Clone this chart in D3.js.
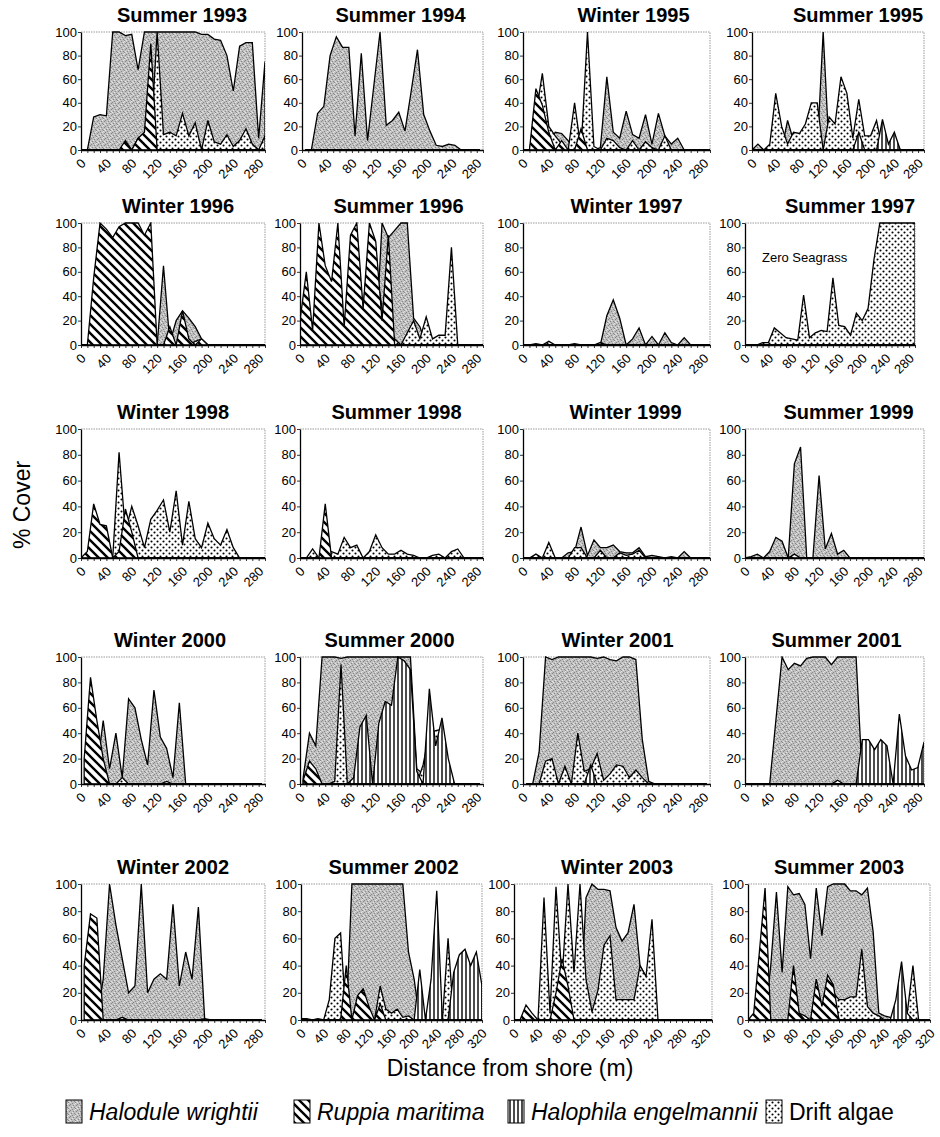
<!DOCTYPE html>
<html>
<head>
<meta charset="utf-8">
<script src="https://cdn.jsdelivr.net/npm/d3@7"></script>
<style>
  body { margin: 0; background: #fff; }
  svg { display: block; font-family: "Liberation Sans", Arial, Helvetica, sans-serif; }
</style>
</head>
<body>
<svg id="chart" width="940" height="1137"></svg>
<script>
// panel titles, reading order (4 per row)
const seasons = [
  "Summer 1993", "Summer 1994", "Winter 1995", "Summer 1995",
  "Winter 1996", "Summer 1996", "Winter 1997", "Summer 1997",
  "Winter 1998", "Summer 1998", "Winter 1999", "Summer 1999",
  "Winter 2000", "Summer 2000", "Winter 2001", "Summer 2001",
  "Winter 2002", "Summer 2002", "Winter 2003", "Summer 2003"
];

// distance (m) of the first sample of each transect, samples every 10 m
const firstSample = [0, 5, 0, 0, 0, 0, 0, 0, 0, 0, 0, 0, 5, 5, 5, 0, 5, 0, 0, 0];
// x-axis extent and last labelled tick (m)
const axisMax = [290, 290, 290, 290, 290, 290, 290, 290, 290, 290, 290, 290, 290, 290, 290, 290, 290, 320, 330, 320];
const labelMax = [280, 280, 280, 280, 280, 280, 280, 280, 280, 280, 280, 280, 280, 280, 280, 280, 280, 320, 320, 320];
const yTicks = [0, 20, 40, 60, 80, 100];

// % cover per sample; samples left out at the end of a list are 0
const halodule = [
  [0,0,28,30,29,100,100,97,98,68,100,100,100,100,100,100,100,100,100,98,98,94,93,80,50,88,91,91,10,75],
  [0,0,31,37,80,96,87,87,12,82,8,54,100,21,25,32,16,50,85,30,16,4,3,5,4,0],
  [0,0,0,0,5,15,14,8,0,0,0,0,2,62,15,10,33,13,10,30,5,31,12,5,10,0],
  [0,5,0,2,0,0,25,8,8,0,5,0,100,0,0,38,20,0,0,0,0,12,0],
  [0,0,0,0,0,0,0,0,0,0,0,0,0,65,2,20,28,22,15,5,0],
  [0,0,0,0,0,0,0,0,0,0,0,0,0,100,88,94,100,100,22,15,0],
  [0,0,0,0,0,0,0,0,0,0,0,0,0,24,37,22,0,5,14,0,7,0,10,2,0,6,0],
  [],
  [],
  [],
  [0,0,0,0,0,0,0,4,5,24,2,14,8,8,10,5,4,4,8,1,2,1,0,1,0,5,0],
  [0,1,3,0,5,16,13,0,73,86,0,0,64,7,19,3,6,0],
  [0,0,10,50,12,40,5,67,60,35,15,74,37,28,5,64,0],
  [5,40,30,100,100,100,99,100,100,100,100,100,100,100,100,100,100,100,12,8,0],
  [0,0,25,100,98,100,100,100,100,100,100,99,100,98,97,100,100,98,35,2,0],
  [0,0,0,0,0,50,100,90,95,93,99,100,100,100,94,100,100,100,100,5,0],
  [0,0,0,30,100,70,45,20,25,100,20,30,34,30,85,25,50,30,83,0],
  [0,0,0,0,0,0,0,0,0,100,100,100,100,100,100,100,100,100,100,50,30,0],
  [0,0,0,0,0,0,0,0,0,0,0,0,90,100,96,96,95,68,58,64,85,40,32,0],
  [0,0,0,0,40,94,35,98,92,93,85,45,97,62,98,100,100,100,95,95,92,97,65,5,3,2,0]
];

const ruppia = [
  [0,0,0,0,0,0,0,8,0,10,15,90,0],
  [],
  [0,0,52,38,15,0,8,0,0,18,0],
  [],
  [0,0,55,100,95,88,97,100,100,100,90,100,0,0,15,0,28,5,0,5,0],
  [20,60,12,100,65,52,100,15,90,100,30,100,85,20,90,0],
  [],
  [],
  [0,5,42,26,25,0,5,38,20,0],
  [0,0,0,0,42,0],
  [],
  [0,0,0,0,0,0,0,0,3,0],
  [20,84,50,20,0],
  [3,18,12,0],
  [],
  [],
  [40,78,75,0],
  [0,0,0,0,0,0,0,0,40,0,18,23,10,0,12,0],
  [0,0,11,5,0,0,0,20,45,25,0],
  [0,5,50,97,0,0,0,0,40,5,0,0,30,10,33,26,0]
];

const halophila = [
  [], [], [],
  [0,0,0,0,0,0,0,0,0,0,0,0,0,0,0,0,0,0,15,0,0,0,26,5,15,0],
  [], [], [], [], [], [], [], [], [],
  [0,0,0,0,0,0,0,0,5,45,54,0,48,65,62,100,97,90,10,0,75,30,52,20,0],
  [0,0,0,0,0,0,0,0,0,0,15,0],
  [0,0,0,0,0,0,0,0,0,0,0,0,0,0,0,0,0,0,0,35,35,27,35,30,0,55,22,11,13,33],
  [],
  [0,0,0,0,0,0,0,0,0,0,0,0,0,0,0,0,0,0,0,0,0,37,0,30,95,0,0,35,48,52,40,50,25],
  [],
  [0,0,0,0,0,0,0,0,0,0,0,0,0,0,0,0,0,0,0,0,0,0,0,0,0,0,15,43,5,0]
];

const driftAlgae = [
  [0,0,0,0,0,0,0,0,0,10,12,8,100,13,15,12,31,12,23,0,25,7,5,13,3,8,18,5,0,12],
  [],
  [0,0,30,65,20,12,5,0,40,0,100,3,0,10,8,2,0,8,0,7,2,0,12,0],
  [0,0,0,5,48,20,5,15,14,22,40,40,0,28,22,62,48,10,43,12,12,25,0,0,10,0],
  [0,0,0,0,12,0,0,8,0,0,0,8,0,0,0,0,5,0,3,5,0],
  [0,0,0,0,0,0,0,0,60,55,30,85,65,30,20,5,0,10,20,5,23,5,8,8,80,0],
  [0,0,1,0,3,0,0,0,1,0,0,0,2,0],
  [0,0,0,2,2,14,10,6,5,4,41,6,10,12,11,55,16,15,8,26,20,30,70,100,100,100,100,100,100,100],
  [0,3,0,0,0,0,82,20,40,25,8,30,37,45,20,52,10,44,15,8,27,15,10,22,8,0],
  [0,0,7,0,5,5,3,16,8,10,0,5,18,8,3,3,6,3,2,0,0,2,3,0,5,7,0],
  [0,0,3,0,12,0,0,0,8,8,0,0,6,0,0,4,2,3,6,0],
  [],
  [0,0,0,0,0,0,5,0,0,0,0,0,0,2,0],
  [0,0,0,0,0,2,94,0,0,0,0,0,0,7,4,3,5,0,0,15,40,42,43,0],
  [0,0,0,18,20,0,14,0,40,10,12,24,3,8,15,14,5,11,5,0],
  [0,0,0,0,0,0,0,0,0,0,0,0,0,0,0,3,0,0,0,0,0,0,0,0,0,0,0,0,0,5],
  [0,0,0,0,0,0,2,0,0,0,0,0,0,0,0,0,0,0,0,1,0],
  [1,1,0,1,0,15,60,64,0,0,5,10,0,0,25,8,5,8,2,3,0,0,0,0,0,0,60,0],
  [0,0,0,0,0,90,5,98,30,100,35,100,30,6,22,55,62,15,15,15,15,40,32,74,0],
  [0,0,0,0,0,0,0,0,0,5,3,0,0,5,0,20,15,15,17,17,52,10,5,3,0,0,0,0,5,40,0]
];

const species = [
  { name: "Halodule wrightii", values: halodule, fill: "url(#pHal)", italic: true },
  { name: "Ruppia maritima", values: ruppia, fill: "url(#pRup)", italic: true },
  { name: "Halophila engelmannii", values: halophila, fill: "url(#pHph)", italic: true },
  { name: "Drift algae", values: driftAlgae, fill: "url(#pDri)", italic: false }
];
const drawOrder = [0, 3, 2, 1]; // back to front

// ---- layout ----
const rowBox = [[32, 150], [223, 345], [429, 558], [657, 784], [884, 1020]];
const colBox = [
  [[81, 265], [302, 483], [523, 710], [752, 924]],
  [[81, 265], [300, 483], [523, 710], [745, 915]],
  [[81, 265], [300, 483], [523, 710], [745, 924]],
  [[81, 265], [300, 483], [523, 710], [745, 924]],
  [[81, 265], [301, 482], [514, 712], [748, 930]]
];
const titleShift = [9, 8, 17, 20, 5, 7, 10, 20, 0, 5, 9, 14, -3, -2, 1, 2, 0, 2, 4, 0];
const fontFam = "Liberation Sans, Arial, Helvetica, sans-serif";

const svg = d3.select("#chart");
const defs = svg.append("defs");

// grey speckle for Halodule
const pHal = defs.append("pattern").attr("id", "pHal")
  .attr("patternUnits", "userSpaceOnUse").attr("width", 7).attr("height", 6);
pHal.append("rect").attr("width", 7).attr("height", 6).attr("fill", "#bfbfbf");
[[0,0],[3,1],[1,3],[5,4],[6,1],[2,5],[4,3]].forEach(([a, b]) =>
  pHal.append("rect").attr("x", a).attr("y", b).attr("width", 1).attr("height", 1).attr("fill", "#878787"));
[[2,2],[5,5],[0,4],[4,0],[6,3]].forEach(([a, b]) =>
  pHal.append("rect").attr("x", a).attr("y", b).attr("width", 1).attr("height", 1).attr("fill", "#e4e4e4"));

// back-slash hatch for Ruppia
const pRup = defs.append("pattern").attr("id", "pRup")
  .attr("patternUnits", "userSpaceOnUse").attr("width", 9).attr("height", 9);
pRup.append("rect").attr("width", 9).attr("height", 9).attr("fill", "#fff");
pRup.append("path").attr("d", "M-1,-1 L10,10 M-1,8 L1,10 M8,-1 L10,1")
  .attr("stroke", "#000").attr("stroke-width", 2.4);

// vertical lines for Halophila
const pHph = defs.append("pattern").attr("id", "pHph")
  .attr("patternUnits", "userSpaceOnUse").attr("width", 4).attr("height", 4);
pHph.append("rect").attr("width", 4).attr("height", 4).attr("fill", "#fff");
pHph.append("rect").attr("x", 1.3).attr("width", 1.4).attr("height", 4).attr("fill", "#000");

// dots for drift algae
const pDri = defs.append("pattern").attr("id", "pDri")
  .attr("patternUnits", "userSpaceOnUse").attr("width", 6).attr("height", 6);
pDri.append("rect").attr("width", 6).attr("height", 6).attr("fill", "#fff");
pDri.append("circle").attr("cx", 1.5).attr("cy", 1.5).attr("r", 1.05).attr("fill", "#000");
pDri.append("circle").attr("cx", 4.5).attr("cy", 4.5).attr("r", 1.05).attr("fill", "#000");

seasons.forEach((title, p) => {
  const r = Math.floor(p / 4), c = p % 4;
  const [xl, xr] = colBox[r][c];
  const [yt, yb] = rowBox[r];

  const x = d3.scaleLinear().domain([0, axisMax[p]]).range([xl, xr]);
  const y = d3.scaleLinear().domain([0, 100]).range([yb, yt]);
  const g = svg.append("g");

  defs.append("clipPath").attr("id", "clip" + p)
    .append("rect").attr("x", xl).attr("y", yt - 1).attr("width", xr - xl).attr("height", yb - yt + 1);

  // top / right frame
  g.append("path")
    .attr("d", `M${xl},${yt}H${xr}V${yb}`)
    .attr("fill", "none").attr("stroke", "#9a9a9a").attr("stroke-width", 1)
    .attr("stroke-dasharray", "1.5,1");

  const n = Math.floor((axisMax[p] - firstSample[p]) / 10) + 1;
  const area = d3.area()
    .x(d => x(d.m)).y0(y(0)).y1(d => y(d.v));

  const plot = g.append("g").attr("clip-path", `url(#clip${p})`);
  drawOrder.forEach(s => {
    const vals = species[s].values[p];
    const pts = d3.range(n).map(i => ({ m: firstSample[p] + 10 * i, v: vals[i] || 0 }));
    plot.append("path").datum(pts)
      .attr("d", area)
      .attr("fill", species[s].fill)
      .attr("stroke", "#000").attr("stroke-width", 1.3)
      .attr("stroke-linejoin", "miter");
  });

  // axes
  const yAxis = g.append("g").attr("transform", `translate(${xl},0)`)
    .call(d3.axisLeft(y).tickValues(yTicks).tickSize(3).tickSizeOuter(0).tickPadding(1));
  const xAxis = g.append("g").attr("transform", `translate(0,${yb})`)
    .call(d3.axisBottom(x)
      .tickValues(d3.range(0, axisMax[p] + 1, 10))
      .tickSize(3).tickSizeOuter(0)
      .tickFormat(d => (d % 40 === 0 && d <= labelMax[p]) ? d : ""));

  [yAxis, xAxis].forEach(ax => {
    ax.attr("font-family", fontFam).attr("font-size", 13);
    ax.select(".domain").attr("stroke", "#000").attr("stroke-width", 1.3);
    ax.selectAll(".tick line").attr("stroke", "#000").attr("stroke-width", 0.8);
    ax.selectAll("text").attr("fill", "#000");
  });
  xAxis.selectAll("text")
    .attr("y", 0).attr("dy", "0.35em")
    .attr("transform", "translate(2,11) rotate(-45)")
    .style("text-anchor", "end");

  // title
  svg.append("text")
    .attr("x", (xl + xr) / 2 + titleShift[p]).attr("y", yt - 10)
    .attr("text-anchor", "middle")
    .attr("font-size", 20).attr("font-weight", "bold")
    .text(title);

  if (title === "Summer 1997") {
    svg.append("text")
      .attr("x", x(29)).attr("y", y(68))
      .attr("font-size", 13)
      .text("Zero Seagrass");
  }
});

// axis titles
svg.append("text")
  .attr("transform", "translate(30,505) rotate(-90)")
  .attr("text-anchor", "middle")
  .attr("font-size", 23)
  .text("% Cover");

svg.append("text")
  .attr("x", 510).attr("y", 1076)
  .attr("text-anchor", "middle")
  .attr("font-size", 23)
  .text("Distance from shore (m)");

// legend
const legendX = [66, 294, 508, 766];
const legend = svg.append("g");
species.forEach((s, i) => {
  legend.append("rect")
    .attr("x", legendX[i]).attr("y", 1100)
    .attr("width", 16).attr("height", 23)
    .attr("fill", s.fill).attr("stroke", "#000").attr("stroke-width", 1);
  legend.append("text")
    .attr("x", legendX[i] + 23).attr("y", 1120)
    .attr("font-size", 23)
    .attr("font-style", s.italic ? "italic" : "normal")
    .text(s.name);
});
</script>
</body>
</html>
